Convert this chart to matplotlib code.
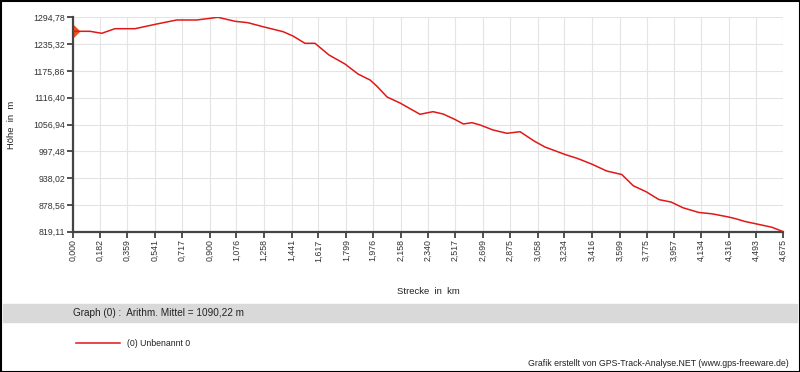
import matplotlib.pyplot as plt
from matplotlib.patches import Rectangle
from matplotlib.lines import Line2D

plt.rcParams['font.family'] = ['Liberation Sans', 'DejaVu Sans']

# Höhenprofil
strecke_km = [0.000, 0.114, 0.191, 0.278, 0.410, 0.553, 0.684, 0.816, 0.956,
              1.068, 1.153, 1.252, 1.384, 1.449, 1.528, 1.594, 1.686, 1.791,
              1.877, 1.956, 2.002, 2.068, 2.153, 2.285, 2.370, 2.436, 2.515,
              2.570, 2.627, 2.680, 2.765, 2.857, 2.943, 3.035, 3.107, 3.239,
              3.318, 3.410, 3.513, 3.612, 3.688, 3.772, 3.857, 3.936, 4.015,
              4.120, 4.206, 4.305, 4.351, 4.423, 4.541, 4.601, 4.675]
hoehe_m = [1263.7, 1263.7, 1259.3, 1269.5, 1269.5, 1279.9, 1288.8, 1288.8, 1294.78,
           1285.9, 1282.8, 1273.9, 1262.9, 1253.3, 1237.1, 1237.1, 1211.2, 1191.2,
           1169.0, 1155.7, 1141.7, 1118.0, 1104.7, 1079.6, 1085.4, 1080.3, 1068.1,
           1058.1, 1061.0, 1055.9, 1044.8, 1037.4, 1041.0, 1020.4, 1007.0, 990.4,
           982.0, 969.8, 953.8, 946.0, 921.0, 907.9, 890.3, 885.0, 872.2,
           861.7, 858.8, 852.4, 848.9, 841.8, 833.3, 828.9, 819.11]

x_ticks = [0.000, 0.182, 0.359, 0.541, 0.717, 0.900, 1.076, 1.258, 1.441,
           1.617, 1.799, 1.976, 2.158, 2.340, 2.517, 2.699, 2.875, 3.058,
           3.234, 3.416, 3.599, 3.775, 3.957, 4.134, 4.316, 4.493, 4.675]
y_ticks = [819.11, 878.56, 938.02, 997.48, 1056.94, 1116.40, 1175.86, 1235.32, 1294.78]

mittel = 1090.22

fig = plt.figure(figsize=(8, 3.72), dpi=100)
ax = fig.add_axes([72.7 / 800, 1 - 231.7 / 372, 710.6 / 800, 214.4 / 372])

ax.plot(strecke_km, hoehe_m, color='#e01818', lw=1.1, zorder=3)
ax.plot(strecke_km[0], hoehe_m[0], marker='D', ms=6, color='#f05020', zorder=2)

ax.set_xlim(0, 4.675)
ax.set_ylim(819.11, 1294.78)
ax.set_xticks(x_ticks)
ax.set_xticklabels([f"{v:.3f}".replace('.', ',') for v in x_ticks], rotation=90)
ax.set_yticks(y_ticks)
ax.set_yticklabels([f"{v:.2f}".replace('.', ',') for v in y_ticks])
ax.tick_params(axis='both', labelsize=6.3, colors='#333333', width=1.2,
               length=4, direction='out', pad=1.5)

# Gitter
ax.grid(True, color='#e4e4e4', lw=0.8)
ax.set_axisbelow(True)
for s in ['top', 'right']:
    ax.spines[s].set_visible(False)
for s in ['left', 'bottom']:
    ax.spines[s].set_color('#444444')
    ax.spines[s].set_linewidth(1.6)

fig.text(12 / 800, 1 - 125 / 372, "Höhe  in  m", rotation=90, fontsize=6.8,
         ha='center', va='center', color='#222222')
fig.text(428 / 800, 1 - 292 / 372, "Strecke  in  km", fontsize=6.8,
         ha='center', va='center', color='#222222')

# Grauer Balken mit Mittelwert
fig.patches.append(Rectangle((3 / 800, 1 - 321.7 / 372), 794 / 800, 17.7 / 372,
                             transform=fig.transFigure, color='#d9d9d9', zorder=0))
fig.text(73 / 800, 1 - 313 / 372,
         "Graph (0) :  Arithm. Mittel = " + f"{mittel:.2f}".replace('.', ',') + " m",
         fontsize=7.2, ha='left', va='center', color='#222222')

# Legende
fig.lines.append(Line2D([76 / 800, 120 / 800], [1 - 343.3 / 372] * 2,
                        transform=fig.transFigure, color='#e01818', lw=1.1))
fig.text(127 / 800, 1 - 343.3 / 372, "(0) Unbenannt 0", fontsize=6.3,
         ha='left', va='center', color='#222222')

fig.text(789 / 800, 1 - 364 / 372,
         "Grafik erstellt von GPS-Track-Analyse.NET (www.gps-freeware.de)",
         fontsize=6.3, ha='right', va='center', color='#222222')

# Rahmen
fig.patches.append(Rectangle((0.5 / 800, 0.5 / 372), 799 / 800, 371 / 372,
                             transform=fig.transFigure, fill=False,
                             edgecolor='black', lw=1.5, zorder=5))

fig.savefig('out.png', dpi=100)
